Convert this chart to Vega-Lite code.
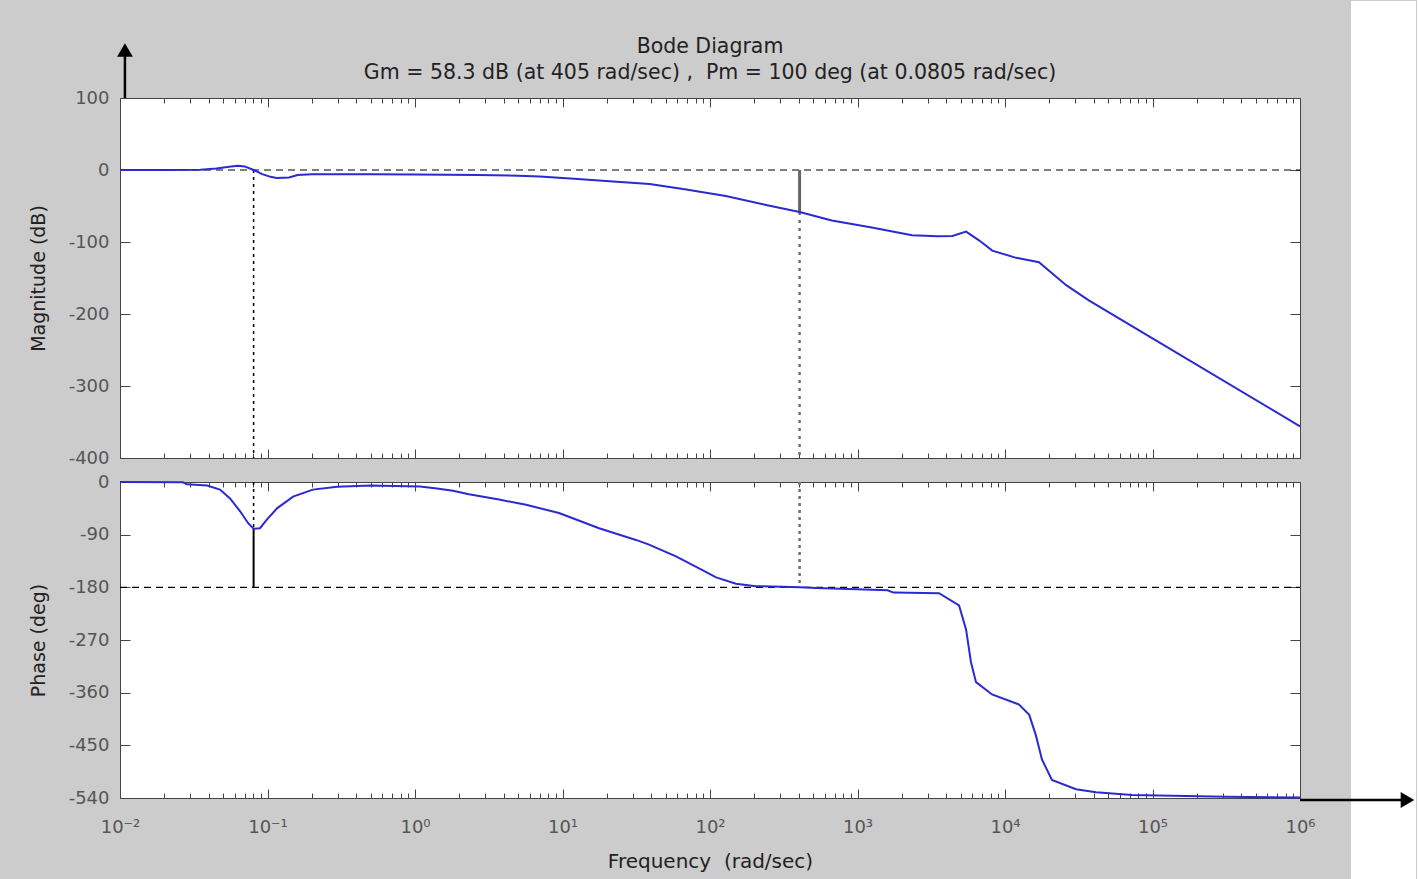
{
  "$schema": "https://vega.github.io/schema/vega-lite/v6.json",
  "background": "#cccccc",
  "padding": {"left": 28, "top": 0, "right": 0, "bottom": 0},
  "autosize": {"type": "pad"},
  "bounds": "flush",
  "spacing": 24,
  "config": {
    "font": "DejaVu Sans",
    "view": {"stroke": "#444444", "strokeWidth": 1, "fill": "white"},
    "axis": {"grid": false, "domain": false, "labelFont": "DejaVu Sans", "titleFont": "DejaVu Sans", "tickColor": "#444444", "tickWidth": 1}
  },
  "datasets": {
    "mag": [
      {"f": 0.01, "v": 0}, {"f": 0.02, "v": 0}, {"f": 0.035, "v": 0.3}, {"f": 0.045, "v": 2},
      {"f": 0.055, "v": 4.5}, {"f": 0.063, "v": 5.8}, {"f": 0.07, "v": 5}, {"f": 0.0805, "v": 0},
      {"f": 0.092, "v": -5.8}, {"f": 0.105, "v": -9.5}, {"f": 0.115, "v": -11}, {"f": 0.14, "v": -10.5},
      {"f": 0.16, "v": -7}, {"f": 0.2, "v": -6}, {"f": 0.5, "v": -6}, {"f": 1, "v": -6.3},
      {"f": 2.7, "v": -7}, {"f": 5, "v": -8}, {"f": 7, "v": -9}, {"f": 12, "v": -12},
      {"f": 22, "v": -16}, {"f": 39, "v": -19.5}, {"f": 69, "v": -27}, {"f": 128, "v": -36},
      {"f": 240, "v": -48.5}, {"f": 405, "v": -58.3}, {"f": 670, "v": -70}, {"f": 1250, "v": -80},
      {"f": 2340, "v": -90.5}, {"f": 3500, "v": -92}, {"f": 4400, "v": -91.5}, {"f": 5450, "v": -85.5},
      {"f": 6700, "v": -98}, {"f": 8200, "v": -112}, {"f": 11900, "v": -122}, {"f": 17000, "v": -128},
      {"f": 26000, "v": -160}, {"f": 37000, "v": -181}, {"f": 100000, "v": -234}, {"f": 1000000, "v": -356}
    ],
    "phase": [
      {"f": 0.01, "v": 0}, {"f": 0.0267, "v": -0.5}, {"f": 0.0284, "v": -4}, {"f": 0.039, "v": -6},
      {"f": 0.0476, "v": -13}, {"f": 0.0557, "v": -28}, {"f": 0.0652, "v": -50}, {"f": 0.0738, "v": -70},
      {"f": 0.0805, "v": -80}, {"f": 0.0889, "v": -79}, {"f": 0.0993, "v": -64}, {"f": 0.116, "v": -45},
      {"f": 0.149, "v": -25}, {"f": 0.203, "v": -13}, {"f": 0.296, "v": -8}, {"f": 0.5, "v": -6},
      {"f": 1.08, "v": -7.5}, {"f": 1.41, "v": -11}, {"f": 1.81, "v": -15}, {"f": 2.32, "v": -21},
      {"f": 3.71, "v": -30}, {"f": 5.66, "v": -39}, {"f": 9.47, "v": -53}, {"f": 17.7, "v": -79},
      {"f": 31.5, "v": -99}, {"f": 38.6, "v": -107}, {"f": 58.8, "v": -127}, {"f": 88.2, "v": -150},
      {"f": 110, "v": -163}, {"f": 150, "v": -174}, {"f": 205, "v": -178}, {"f": 308, "v": -179},
      {"f": 405, "v": -180}, {"f": 524, "v": -181}, {"f": 875, "v": -183}, {"f": 1600, "v": -185},
      {"f": 1750, "v": -189}, {"f": 3570, "v": -190}, {"f": 4880, "v": -211}, {"f": 5445, "v": -252},
      {"f": 5880, "v": -308}, {"f": 6360, "v": -342}, {"f": 8170, "v": -363}, {"f": 12400, "v": -380},
      {"f": 14600, "v": -398}, {"f": 16200, "v": -433}, {"f": 17800, "v": -474}, {"f": 20800, "v": -509},
      {"f": 30300, "v": -525}, {"f": 41400, "v": -530}, {"f": 72600, "v": -535}, {"f": 315000, "v": -538},
      {"f": 1000000, "v": -539}
    ]
  },
  "vconcat": [
    {
      "width": 1180,
      "height": 360,
      "title": {
        "text": ["Bode Diagram", "Gm = 58.3 dB (at 405 rad/sec) ,\u00a0 Pm = 100 deg (at 0.0805 rad/sec)"],
        "frame": "group", "anchor": "middle", "fontSize": 20.5, "fontWeight": "normal",
        "color": "#222222", "lineHeight": 26, "offset": -40
      },
      "resolve": {"axis": {"x": "independent", "y": "independent"}},
      "layer": [
        {
          "data": {"values": [{"f1": 0.01, "f2": 1000000, "v": 0}]},
          "mark": {"type": "rule", "color": "black", "strokeDash": [7, 5], "strokeWidth": 1.2},
          "encoding": {
            "x": {"field": "f1", "type": "quantitative", "scale": {"type": "log", "domain": [0.01, 1000000], "nice": false}, "axis": null},
            "x2": {"field": "f2"},
            "y": {"field": "v", "type": "quantitative", "scale": {"domain": [-400, 100], "nice": false, "zero": false}, "axis": null}
          }
        },
        {
          "data": {"values": [{"f": 0.0805, "v1": 0, "v2": -400}]},
          "mark": {"type": "rule", "color": "black", "strokeDash": [3, 4], "strokeWidth": 1.5},
          "encoding": {
            "x": {"field": "f", "type": "quantitative", "scale": {"type": "log", "domain": [0.01, 1000000], "nice": false},
              "axis": {"orient": "bottom", "labels": false, "ticks": true, "tickSize": -5, "title": null,
                "values": [0.02,0.03,0.04,0.05,0.06,0.07,0.08,0.09,0.2,0.3,0.4,0.5,0.6,0.7,0.8,0.9,2,3,4,5,6,7,8,9,20,30,40,50,60,70,80,90,200,300,400,500,600,700,800,900,2000,3000,4000,5000,6000,7000,8000,9000,20000,30000,40000,50000,60000,70000,80000,90000,200000,300000,400000,500000,600000,700000,800000,900000]}},
            "y": {"field": "v1", "type": "quantitative", "scale": {"domain": [-400, 100], "nice": false, "zero": false},
              "axis": {"orient": "left", "labels": false, "ticks": true, "tickSize": -10, "title": null, "values": [100, 0, -100, -200, -300, -400]}},
            "y2": {"field": "v2"}
          }
        },
        {
          "data": {"values": [{"f": 405, "v1": 0, "v2": -58.3}]},
          "mark": {"type": "rule", "color": "#666666", "strokeWidth": 3},
          "encoding": {
            "x": {"field": "f", "type": "quantitative", "scale": {"type": "log", "domain": [0.01, 1000000], "nice": false},
              "axis": {"orient": "top", "labels": false, "ticks": true, "tickSize": -9, "title": null,
                "values": [0.01, 0.1, 1, 10, 100, 1000, 10000, 100000, 1000000]}},
            "y": {"field": "v1", "type": "quantitative", "scale": {"domain": [-400, 100], "nice": false, "zero": false},
              "axis": {"orient": "right", "labels": false, "ticks": true, "tickSize": -10, "title": null, "values": [100, 0, -100, -200, -300, -400]}},
            "y2": {"field": "v2"}
          }
        },
        {
          "data": {"values": [{"f": 405, "v1": -58.3, "v2": -400}]},
          "mark": {"type": "rule", "color": "#707070", "strokeDash": [3, 5], "strokeWidth": 2.5},
          "encoding": {
            "x": {"field": "f", "type": "quantitative", "scale": {"type": "log", "domain": [0.01, 1000000], "nice": false},
              "axis": {"orient": "top", "labels": false, "ticks": true, "tickSize": -5, "title": null,
                "values": [0.02,0.03,0.04,0.05,0.06,0.07,0.08,0.09,0.2,0.3,0.4,0.5,0.6,0.7,0.8,0.9,2,3,4,5,6,7,8,9,20,30,40,50,60,70,80,90,200,300,400,500,600,700,800,900,2000,3000,4000,5000,6000,7000,8000,9000,20000,30000,40000,50000,60000,70000,80000,90000,200000,300000,400000,500000,600000,700000,800000,900000]}},
            "y": {"field": "v1", "type": "quantitative", "scale": {"domain": [-400, 100], "nice": false, "zero": false}, "axis": null},
            "y2": {"field": "v2"}
          }
        },
        {
          "data": {"values": [{"f": 0.0108, "v1": 100, "v2": 168}]},
          "mark": {"type": "rule", "color": "black", "strokeWidth": 2.5},
          "encoding": {
            "x": {"field": "f", "type": "quantitative", "scale": {"type": "log", "domain": [0.01, 1000000], "nice": false}, "axis": null},
            "y": {"field": "v1", "type": "quantitative", "scale": {"domain": [-400, 100], "nice": false, "zero": false}, "axis": null},
            "y2": {"field": "v2"}
          }
        },
        {
          "data": {"values": [{"f": 0.0108, "v": 166.7}]},
          "mark": {"type": "point", "shape": "triangle-up", "filled": true, "color": "black", "size": 250, "opacity": 1},
          "encoding": {
            "x": {"field": "f", "type": "quantitative", "scale": {"type": "log", "domain": [0.01, 1000000], "nice": false}, "axis": null},
            "y": {"field": "v", "type": "quantitative", "scale": {"domain": [-400, 100], "nice": false, "zero": false}, "axis": null}
          }
        },
        {
          "data": {"name": "mag"},
          "mark": {"type": "line", "color": "#2a2ad0", "strokeWidth": 2},
          "encoding": {
            "x": {"field": "f", "type": "quantitative", "scale": {"type": "log", "domain": [0.01, 1000000], "nice": false},
              "axis": {"orient": "bottom", "labels": false, "ticks": true, "tickSize": -9, "title": null,
                "values": [0.01, 0.1, 1, 10, 100, 1000, 10000, 100000, 1000000]}},
            "y": {"field": "v", "type": "quantitative", "scale": {"domain": [-400, 100], "nice": false, "zero": false},
              "axis": {"orient": "left", "ticks": false, "labels": true, "values": [100, 0, -100, -200, -300, -400],
                "labelExpr": "'' + datum.value", "labelPadding": 11, "labelFontSize": 18, "labelColor": "#555555",
                "title": "Magnitude (dB)", "titleFontSize": 19, "titleFontWeight": "normal", "titleColor": "#222222", "titlePadding": 20}}
          }
        }
      ]
    },
    {
      "width": 1180,
      "height": 316,
      "resolve": {"axis": {"x": "independent", "y": "independent"}},
      "layer": [
        {
          "data": {"values": [{"f1": 2217000, "f2": 6117000, "v1": 822, "v2": -678.4}]},
          "mark": {"type": "rect", "color": "white", "opacity": 1},
          "encoding": {
            "x": {"field": "f1", "type": "quantitative", "scale": {"type": "log", "domain": [0.01, 1000000], "nice": false}, "axis": null},
            "x2": {"field": "f2"},
            "y": {"field": "v1", "type": "quantitative", "scale": {"domain": [-540, 0], "nice": false, "zero": false}, "axis": null},
            "y2": {"field": "v2"}
          }
        },
        {
          "data": {"values": [{"f1": 0.01, "f2": 1000000, "v": -180}]},
          "mark": {"type": "rule", "color": "black", "strokeDash": [7, 5], "strokeWidth": 1.2},
          "encoding": {
            "x": {"field": "f1", "type": "quantitative", "scale": {"type": "log", "domain": [0.01, 1000000], "nice": false}, "axis": null},
            "x2": {"field": "f2"},
            "y": {"field": "v", "type": "quantitative", "scale": {"domain": [-540, 0], "nice": false, "zero": false}, "axis": null}
          }
        },
        {
          "data": {"values": [{"f": 0.0805, "v1": 0, "v2": -80}]},
          "mark": {"type": "rule", "color": "black", "strokeDash": [3, 4], "strokeWidth": 1.5},
          "encoding": {
            "x": {"field": "f", "type": "quantitative", "scale": {"type": "log", "domain": [0.01, 1000000], "nice": false},
              "axis": {"orient": "bottom", "labels": false, "ticks": true, "tickSize": -5, "title": null,
                "values": [0.02,0.03,0.04,0.05,0.06,0.07,0.08,0.09,0.2,0.3,0.4,0.5,0.6,0.7,0.8,0.9,2,3,4,5,6,7,8,9,20,30,40,50,60,70,80,90,200,300,400,500,600,700,800,900,2000,3000,4000,5000,6000,7000,8000,9000,20000,30000,40000,50000,60000,70000,80000,90000,200000,300000,400000,500000,600000,700000,800000,900000]}},
            "y": {"field": "v1", "type": "quantitative", "scale": {"domain": [-540, 0], "nice": false, "zero": false},
              "axis": {"orient": "left", "labels": false, "ticks": true, "tickSize": -10, "title": null, "values": [0, -90, -180, -270, -360, -450, -540]}},
            "y2": {"field": "v2"}
          }
        },
        {
          "data": {"values": [{"f": 0.0805, "v1": -80, "v2": -180}]},
          "mark": {"type": "rule", "color": "black", "strokeWidth": 2},
          "encoding": {
            "x": {"field": "f", "type": "quantitative", "scale": {"type": "log", "domain": [0.01, 1000000], "nice": false},
              "axis": {"orient": "top", "labels": false, "ticks": true, "tickSize": -9, "title": null,
                "values": [0.01, 0.1, 1, 10, 100, 1000, 10000, 100000, 1000000]}},
            "y": {"field": "v1", "type": "quantitative", "scale": {"domain": [-540, 0], "nice": false, "zero": false},
              "axis": {"orient": "right", "labels": false, "ticks": true, "tickSize": -10, "title": null, "values": [0, -90, -180, -270, -360, -450, -540]}},
            "y2": {"field": "v2"}
          }
        },
        {
          "data": {"values": [{"f": 405, "v1": 0, "v2": -180}]},
          "mark": {"type": "rule", "color": "#707070", "strokeDash": [3, 4], "strokeWidth": 2.5},
          "encoding": {
            "x": {"field": "f", "type": "quantitative", "scale": {"type": "log", "domain": [0.01, 1000000], "nice": false},
              "axis": {"orient": "top", "labels": false, "ticks": true, "tickSize": -5, "title": null,
                "values": [0.02,0.03,0.04,0.05,0.06,0.07,0.08,0.09,0.2,0.3,0.4,0.5,0.6,0.7,0.8,0.9,2,3,4,5,6,7,8,9,20,30,40,50,60,70,80,90,200,300,400,500,600,700,800,900,2000,3000,4000,5000,6000,7000,8000,9000,20000,30000,40000,50000,60000,70000,80000,90000,200000,300000,400000,500000,600000,700000,800000,900000]}},
            "y": {"field": "v1", "type": "quantitative", "scale": {"domain": [-540, 0], "nice": false, "zero": false}, "axis": null},
            "y2": {"field": "v2"}
          }
        },
        {
          "data": {"values": [{"f1": 1000000, "f2": 4837000, "v": -543.4}]},
          "mark": {"type": "rule", "color": "black", "strokeWidth": 2.5},
          "encoding": {
            "x": {"field": "f1", "type": "quantitative", "scale": {"type": "log", "domain": [0.01, 1000000], "nice": false},
              "axis": {"orient": "bottom", "labels": false, "ticks": true, "tickSize": -9, "title": null,
                "values": [0.01, 0.1, 1, 10, 100, 1000, 10000, 100000, 1000000]}},
            "x2": {"field": "f2"},
            "y": {"field": "v", "type": "quantitative", "scale": {"domain": [-540, 0], "nice": false, "zero": false}, "axis": null}
          }
        },
        {
          "data": {"values": [{"f": 5356000, "v": -543.4}]},
          "mark": {"type": "point", "shape": "triangle-right", "filled": true, "color": "black", "size": 250, "opacity": 1},
          "encoding": {
            "x": {"field": "f", "type": "quantitative", "scale": {"type": "log", "domain": [0.01, 1000000], "nice": false}, "axis": null},
            "y": {"field": "v", "type": "quantitative", "scale": {"domain": [-540, 0], "nice": false, "zero": false}, "axis": null}
          }
        },
        {
          "data": {"name": "phase"},
          "mark": {"type": "line", "color": "#2a2ad0", "strokeWidth": 2},
          "encoding": {
            "x": {"field": "f", "type": "quantitative", "scale": {"type": "log", "domain": [0.01, 1000000], "nice": false},
              "axis": {"orient": "bottom", "ticks": false, "labels": true, "values": [0.01, 0.1, 1, 10, 100, 1000, 10000, 100000, 1000000],
                "labelExpr": "'10' + ['⁻²','⁻¹','⁰','¹','²','³','⁴','⁵','⁶'][round(log(datum.value)/LN10) + 2]",
                "labelPadding": 20, "labelFontSize": 18, "labelColor": "#555555", "labelFlush": false, "labelOverlap": false, "labelBound": false,
                "title": "Frequency\u00a0 (rad/sec)", "titleFontSize": 20, "titleFontWeight": "normal", "titleColor": "#222222", "titlePadding": 15}},
            "y": {"field": "v", "type": "quantitative", "scale": {"domain": [-540, 0], "nice": false, "zero": false},
              "axis": {"orient": "left", "ticks": false, "labels": true, "values": [0, -90, -180, -270, -360, -450, -540],
                "labelExpr": "'' + datum.value", "labelPadding": 11, "labelFontSize": 18, "labelColor": "#555555",
                "title": "Phase (deg)", "titleFontSize": 19, "titleFontWeight": "normal", "titleColor": "#222222", "titlePadding": 20}}
          }
        }
      ]
    }
  ]
}
